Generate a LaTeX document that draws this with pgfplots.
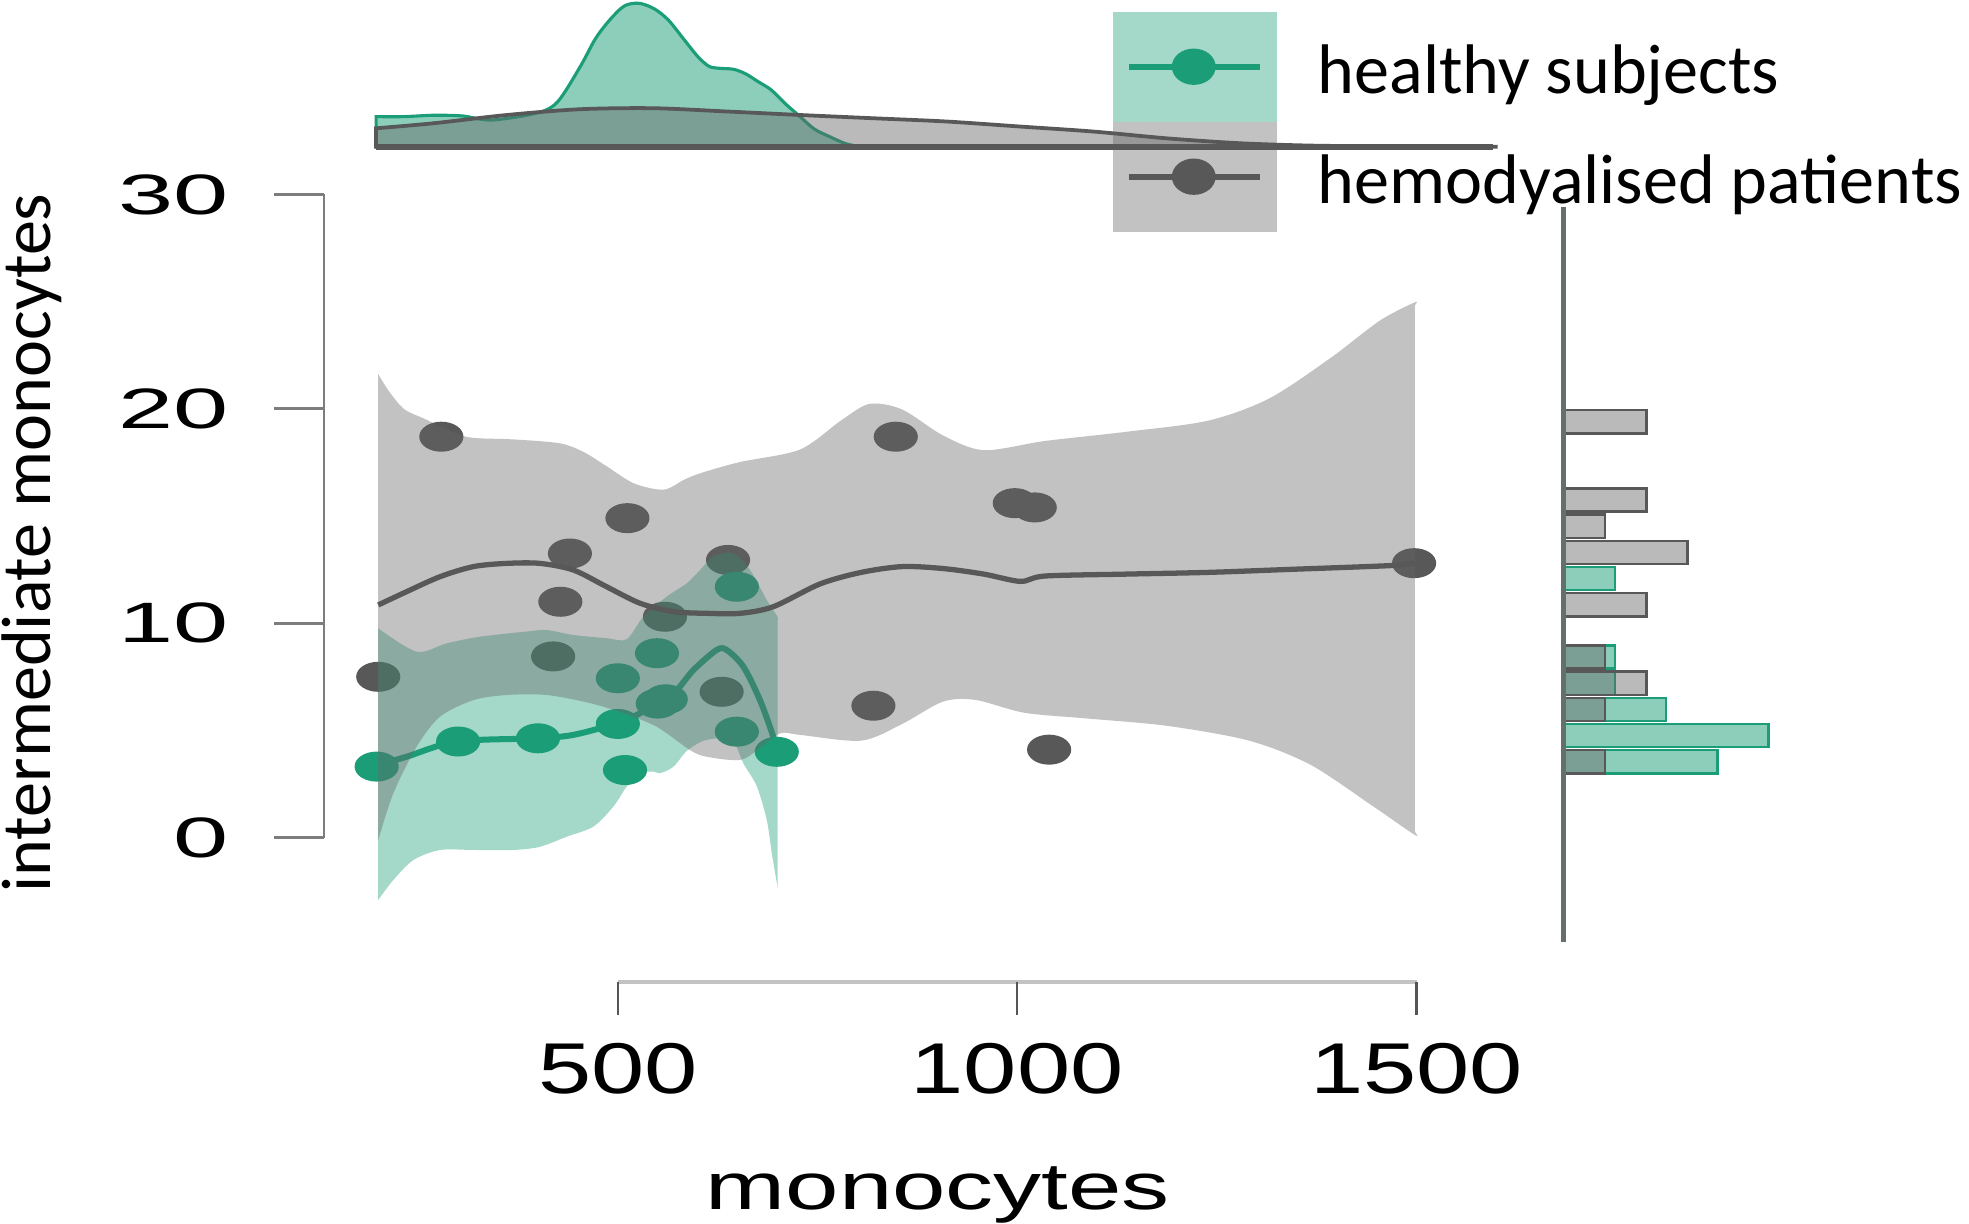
\documentclass[border=0pt]{standalone}
\usepackage{pgfplots}
\pgfplotsset{compat=1.18}
\usepackage{fontspec}
\setmainfont{Liberation Sans}
\newfontfamily\carlito{Carlito}
\definecolor{hgreen}{RGB}{27,158,119}
\definecolor{hgray}{RGB}{88,88,88}
\definecolor{rib}{RGB}{102,102,102}
\definecolor{yax}{RGB}{125,125,125}
\definecolor{xax}{RGB}{195,195,195}
\definecolor{xtk}{RGB}{85,85,85}
\definecolor{vline}{RGB}{100,112,108}
\pgfplotsset{base/.style={scale only axis, hide axis, clip=false, xmin=-273.58, xmax=2191.82},
  main/.style={base, at={(0,0)}, anchor=south west, width=156.8mm, height=97.4mm, ymin=-17.985, ymax=39.075}}
\begin{document}
\begin{tikzpicture}
\useasboundingbox (0,0) rectangle (156.8mm,97.4mm);
% ---------------- scatter points (bottom layer) ----------------
\begin{axis}[main]
\addplot[hgray, only marks, mark=*, mark size=3.2pt, mark options={xscale=1.5, draw=hgray, fill=hgray}] coordinates {
(200,7.5) (279,18.7) (440,13.25) (428,11.0) (419,8.45) (512,14.9) (559,10.3) (638,12.95)
(630,6.8) (848,18.7) (820,6.15) (997,15.6) (1022,15.4) (1040,4.1) (1497,12.8)};
\addplot[hgreen, only marks, mark=*, mark size=3.2pt, mark options={xscale=1.5, draw=hgreen, fill=hgreen}] coordinates {
(198,3.31) (300,4.48) (400,4.63) (500,5.3) (509,3.15) (500,7.43) (549,8.6) (550,6.25)
(560,6.45) (649,11.7) (649,4.94) (699,4.0)};
\end{axis}
% ---------------- ribbons + loess ----------------
\begin{axis}[main]
\addplot[fill=hgreen, fill opacity=0.4, draw=none, smooth, tension=0.5] coordinates {
(200,9.76) (248.1,8.67) (285.7,9.06) (327.5,9.37) (385.8,9.61) (411,9.68) (444.3,9.45) (486,9.30)
(511,9.25) (531.9,10.30) (561.2,11.24) (586.3,11.86) (603,12.48) (619.7,13.11) (644.7,13.26)
(665.6,12.48) (686.5,11.08) (700,10.3)
(700,10.15) (700,9.7) (700,8.4) (700,4.5) (700,0.2) (700,-1.4) (700,-2.0) (700,-2.2) (700,-2.3)
(692.8,-0.74) (686.5,0.82) (673.9,2.40) (657.2,3.46) (646.2,4.39) (630.5,4.63)
(606.9,4.51) (586.3,4.04) (569.5,3.30) (552.8,3.00) (544.5,3.08) (527.8,3.00) (511,2.37)
(494.3,1.44) (469.3,0.51) (436,0.04) (402.5,-0.43) (369.2,-0.58) (319.2,-0.58) (277.4,-0.58)
(244,-1.05) (218.9,-1.98) (200,-2.91)} --cycle;
\addplot[hgreen, line width=0.48mm, smooth] coordinates {
(200,3.39) (235.5,3.77) (298.3,4.48) (398.4,4.63) (444.3,4.79) (498.6,5.33) (527.8,5.80)
(569.5,6.73) (594.5,7.81) (623.7,8.75) (636.3,8.75) (657.2,7.97) (678,6.41) (694.7,4.70) (698.9,4.08)};
\addplot[fill=rib, fill opacity=0.4, draw=none, smooth, tension=0.5] coordinates {
(200,21.62) (213.8,20.80) (232.7,19.98) (259.4,19.51) (292.5,18.92) (317.6,18.65) (371.1,18.57)
(427.7,18.39) (457.5,17.98) (485.2,17.34) (520.4,16.52) (557.4,16.23) (583.3,16.70) (605.3,17.02)
(653.1,17.52) (728,18.10) (779.2,19.45) (815.1,20.23) (856,19.97) (907.1,18.76) (958.2,18.07)
(1034.8,18.50) (1137,18.93) (1239.3,19.45) (1315.9,20.49) (1392.6,22.38) (1453.9,24.11) (1498,24.97)
(1498,24.8) (1498,24.3) (1498,22.8) (1498,18) (1498,7) (1498,2.2) (1498,0.75) (1498,0.3) (1498,0.12)
(1443.6,1.51) (1367,3.40) (1290.4,4.52) (1188.1,5.21) (1085.8,5.56) (1009.3,5.82)
(947.9,6.42) (907.1,6.34) (856,5.30) (804.7,4.52) (728.1,4.79) (703.1,4.86) (677.7,4.16)
(653,3.62) (611.3,3.77) (590.4,4.08) (548.7,5.17) (506.9,5.80) (465.3,6.27) (411,6.65)
(360.8,6.65) (319.2,6.41) (277.4,5.64) (248.1,4.24) (218.9,2.06) (200,-0.12)} --cycle;
\addplot[hgray, line width=0.42mm, smooth] coordinates {
(200,10.85) (235.5,11.47) (277.4,12.17) (319.2,12.64) (360.8,12.79) (402.5,12.79) (444.3,12.48)
(486,11.70) (527.8,10.93) (569.5,10.54) (611.3,10.46) (653,10.46) (694.7,10.77) (753.1,11.83)
(804.7,12.37) (856,12.64) (907.1,12.55) (958.2,12.29) (1004.1,11.95) (1034.8,12.20) (1137,12.29)
(1239.3,12.37) (1341.5,12.51) (1469.2,12.69) (1497.3,12.81)};
\end{axis}
% ---------------- axes, labels, legend ----------------
\begin{axis}[main]
\draw[yax, line width=0.22mm] (axis cs:132.1,0) -- (axis cs:132.1,30);
\draw[yax, line width=0.22mm] (axis cs:69.2,0) -- (axis cs:132.1,0);
\draw[yax, line width=0.22mm] (axis cs:69.2,10) -- (axis cs:132.1,10);
\draw[yax, line width=0.22mm] (axis cs:69.2,20) -- (axis cs:132.1,20);
\draw[yax, line width=0.22mm] (axis cs:69.2,30) -- (axis cs:132.1,30);
\node[anchor=east, inner sep=0pt, xscale=1.74, font=\fontsize{12.9}{14}\selectfont] at (axis cs:14.5,0) {0};
\node[anchor=east, inner sep=0pt, xscale=1.74, font=\fontsize{12.9}{14}\selectfont] at (axis cs:14.5,10) {10};
\node[anchor=east, inner sep=0pt, xscale=1.74, font=\fontsize{12.9}{14}\selectfont] at (axis cs:14.5,20) {20};
\node[anchor=east, inner sep=0pt, xscale=1.74, font=\fontsize{12.9}{14}\selectfont] at (axis cs:14.5,30) {30};
\draw[xax, line width=0.27mm] (axis cs:500,-6.737) -- (axis cs:1500,-6.737);
\draw[xtk, line width=0.2mm] (axis cs:500,-6.737) -- (axis cs:500,-8.26);
\draw[xtk, line width=0.2mm] (axis cs:1000,-6.737) -- (axis cs:1000,-8.26);
\draw[xtk, line width=0.2mm] (axis cs:1500,-6.737) -- (axis cs:1500,-8.26);
\node[anchor=base, inner sep=0pt, xscale=1.33, font=\fontsize{16.3}{18}\selectfont] at (axis cs:500,-11.93) {500};
\node[anchor=base, inner sep=0pt, xscale=1.33, font=\fontsize{16.3}{18}\selectfont] at (axis cs:1000,-11.93) {1000};
\node[anchor=base, inner sep=0pt, xscale=1.33, font=\fontsize{16.3}{18}\selectfont] at (axis cs:1500,-11.93) {1500};
\node[anchor=base, inner sep=0pt, xscale=1.45, font=\fontsize{15}{18}\selectfont] at (axis cs:900.6,-17.34) {monocytes};
\node[rotate=90, anchor=base, inner sep=0pt, font=\carlito\fontsize{15.9}{18}\selectfont] at (axis cs:-210.7,13.74) {intermediate monocytes};
% legend
\fill[hgreen, opacity=0.4] (axis cs:1120.4,33.40) rectangle (axis cs:1325.9,38.53);
\fill[rib, opacity=0.4] (axis cs:1120.4,28.27) rectangle (axis cs:1325.9,33.40);
\addplot[hgreen, line width=0.5mm, mark=*, mark indices={2}, mark size=3.4pt, mark options={xscale=1.25, draw=hgreen, fill=hgreen}] coordinates {(1140.3,35.96) (1221.1,35.96) (1304,35.96)};
\addplot[hgray, line width=0.5mm, mark=*, mark indices={2}, mark size=3.4pt, mark options={xscale=1.25, draw=hgray, fill=hgray}] coordinates {(1140.3,30.83) (1221.1,30.83) (1304,30.83)};
\node[anchor=base west, inner sep=0pt, font=\carlito\fontsize{15.9}{18}\selectfont] at (axis cs:1375.2,34.72) {healthy subjects};
\node[anchor=base west, inner sep=0pt, font=\carlito\fontsize{15.9}{18}\selectfont] at (axis cs:1375.2,29.58) {hemodyalised patients};
\end{axis}
% ---------------- top marginal density ----------------
\begin{axis}[base, at={(0,85.72mm)}, anchor=south west, width=156.8mm, height=11.68mm,
  ymin=0, ymax=0.00584]
\addplot[fill=hgreen, fill opacity=0.5, draw=hgreen, line width=0.25mm, smooth, tension=0.5] coordinates {
(197.3,0.001195) (232,0.001195) (270,0.00125) (306,0.00122) (342,0.00106) (400,0.00135) (425,0.0018)
(453,0.00319) (472,0.0043) (490,0.00505) (508,0.0056) (526,0.00571) (545,0.0055) (563,0.00505)
(582,0.0043) (600,0.00359) (614,0.0032) (627,0.00312) (645,0.00308) (660,0.0029) (675,0.0026) (692,0.00226)
(710,0.0017) (728,0.0012) (746,0.0007) (765,0.0004) (785,0.00012) (802,0)
(790,0) (760,0) (650,0) (197.3,0)} --cycle;
\addplot[fill=rib, fill opacity=0.45, draw=hgray, line width=0.3mm, smooth, tension=0.5] coordinates {
(197.3,0.00073) (268.9,0.00093) (360.9,0.00126) (452.7,0.00149) (544.5,0.00153)
(636.3,0.0014) (728.3,0.00126) (820.1,0.00113) (911.9,0.001) (1003.9,0.0008) (1095.8,0.0006)
(1187.6,0.00033) (1279.4,0.000135) (1371.1,0.00004) (1480,0.00001) (1596,0)
(1585,0) (1540,0) (1400,0) (197.3,0)} --cycle;
\addplot[hgray, line width=0.5mm] coordinates {(197.3,0) (1596,0)};
\end{axis}
% ---------------- right marginal histogram ----------------
\begin{axis}[scale only axis, hide axis, clip=false, at={(124.5mm,0)}, anchor=south west,
  width=32.3mm, height=97.4mm, xmin=0, xmax=0.5265, ymin=-17.985, ymax=39.075]
\addplot[xbar, bar shift=0pt, bar width=1.08, fill=hgreen, fill opacity=0.5, draw=hgreen, line width=0.2mm] coordinates {
(0.067,12.08) (0.067,8.42) (0.067,7.2) (0.133,5.98) (0.266,4.76) (0.200,3.54)};
\addplot[xbar, bar shift=0pt, bar width=1.08, fill=rib, fill opacity=0.45, draw=hgray, line width=0.2mm] coordinates {
(0.108,19.4) (0.108,15.74) (0.054,14.52) (0.161,13.3) (0.108,10.86) (0.054,8.42) (0.108,7.2) (0.054,5.98) (0.054,3.54)};
\addplot[vline, line width=0.4mm] coordinates {(0,-4.86) (0,29.41)};
\end{axis}
\end{tikzpicture}
\end{document}
